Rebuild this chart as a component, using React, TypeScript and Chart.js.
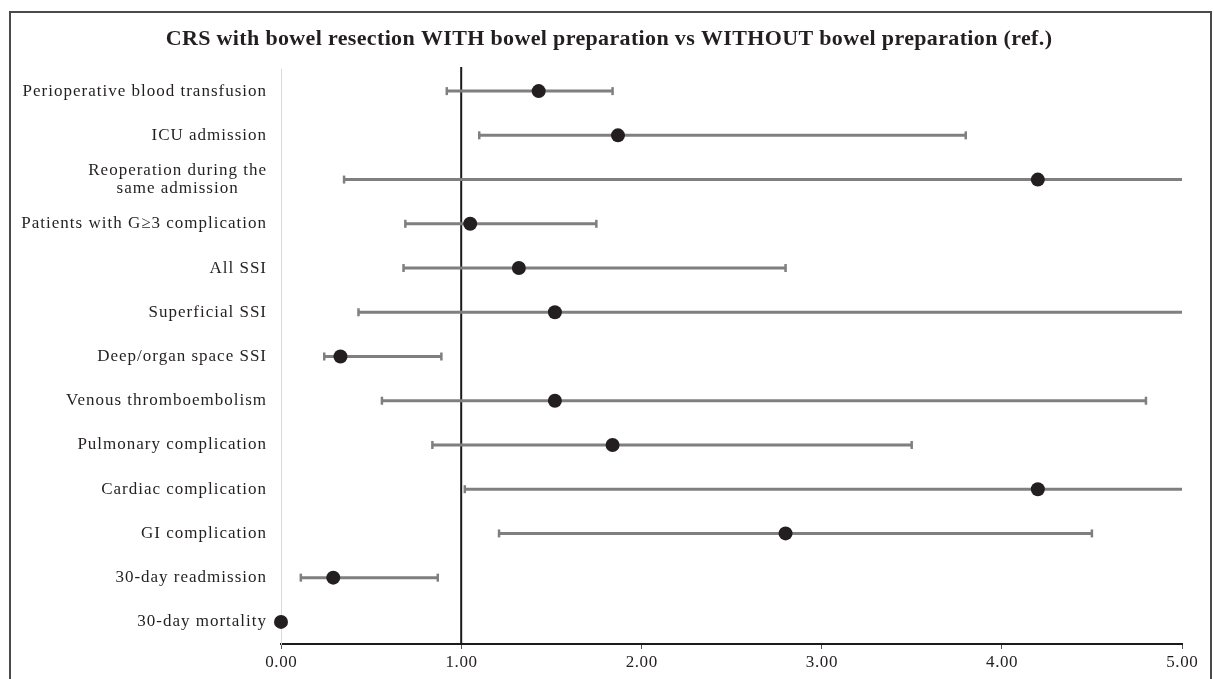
import React, { useEffect, useRef } from 'react';
import { Chart, registerables } from 'chart.js';

Chart.register(...registerables);

const W = 1214;
const H = 679;

const titleText = 'CRS with bowel resection WITH bowel preparation vs WITHOUT bowel preparation (ref.)';

const categories: (string | string[])[] = [
  'Perioperative blood transfusion',
  'ICU admission',
  ['Reoperation during the', 'same admission'],
  'Patients with G\u22653 complication',
  'All SSI',
  'Superficial SSI',
  'Deep/organ space SSI',
  'Venous thromboembolism',
  'Pulmonary complication',
  'Cardiac complication',
  'GI complication',
  '30-day readmission',
  '30-day mortality',
];

const oddsRatio = [1.43, 1.87, 4.2, 1.05, 1.32, 1.52, 0.33, 1.52, 1.84, 4.2, 2.8, 0.29, 0.0];
const ciLower: (number | null)[] = [0.92, 1.1, 0.35, 0.69, 0.68, 0.43, 0.24, 0.56, 0.84, 1.02, 1.21, 0.11, null];
const ciUpper: (number | null)[] = [1.84, 3.8, 6.5, 1.75, 2.8, 6.2, 0.89, 4.8, 3.5, 7.0, 4.5, 0.87, null];

const xTicks = [0, 1, 2, 3, 4, 5];
const referenceValue = 1;

const labelKeys = categories.map((c) => (Array.isArray(c) ? c.join(' ') : c));

export default function App() {
  const ref = useRef<HTMLCanvasElement>(null);

  useEffect(() => {
    document.body.style.margin = '0';
    const canvas = ref.current!;
    const ctx = canvas.getContext('2d')!;

    const errorBars = {
      id: 'errorBars',
      beforeDatasetsDraw(chart: any) {
        const c = chart.ctx;
        const xs = chart.scales.x;
        const ys = chart.scales.y;
        const area = chart.chartArea;
        c.save();
        const rx = xs.getPixelForValue(referenceValue);
        c.strokeStyle = '#1a1a1a';
        c.lineWidth = 2;
        c.beginPath();
        c.moveTo(rx, area.top - 2);
        c.lineTo(rx, area.bottom);
        c.stroke();
        c.strokeStyle = '#7f7f7f';
        for (let i = 0; i < categories.length; i++) {
          const lo = ciLower[i];
          const hi = ciUpper[i];
          if (lo == null || hi == null) continue;
          const y = ys.getPixelForValue(i);
          const x1 = xs.getPixelForValue(Math.max(lo, xs.min));
          const x2 = xs.getPixelForValue(Math.min(hi, xs.max));
          c.lineWidth = 3;
          c.beginPath();
          c.moveTo(x1, y);
          c.lineTo(x2, y);
          c.stroke();
          c.lineWidth = 2.5;
          if (lo >= xs.min) {
            c.beginPath();
            c.moveTo(x1, y - 4);
            c.lineTo(x1, y + 4);
            c.stroke();
          }
          if (hi <= xs.max) {
            c.beginPath();
            c.moveTo(x2, y - 4);
            c.lineTo(x2, y + 4);
            c.stroke();
          }
        }
        c.restore();
      },
    };

    const decorations = {
      id: 'decorations',
      afterDraw(chart: any) {
        const c = chart.ctx;
        const ys = chart.scales.y;
        const xs = chart.scales.x;
        c.save();
        // frame
        c.strokeStyle = '#4a4a4a';
        c.lineWidth = 2;
        c.strokeRect(10, 12, 1201, 700);
        // title
        c.fillStyle = '#231f20';
        c.font = 'bold 22px "Liberation Serif"';
        try { (c as any).letterSpacing = '0.35px'; } catch (e) {}
        c.textAlign = 'center';
        c.textBaseline = 'middle';
        c.fillText(titleText, 609, 39);
        // category labels
        c.font = '17px "Liberation Serif"';
        try { (c as any).letterSpacing = '1px'; } catch (e) {}
        const rightX = 267;
        for (let i = 0; i < categories.length; i++) {
          const lab = categories[i];
          const y = ys.getPixelForValue(i);
          if (Array.isArray(lab)) {
            const w1 = c.measureText(lab[0]).width;
            const cx = rightX - w1 / 2;
            c.textAlign = 'center';
            c.fillText(lab[0], cx, y - 9);
            c.fillText(lab[1], cx, y + 9);
          } else {
            c.textAlign = 'right';
            c.fillText(lab, rightX, y);
          }
        }
        // x tick labels
        c.font = '17px "Liberation Serif"';
        try { (c as any).letterSpacing = '0.6px'; } catch (e) {}
        c.textAlign = 'center';
        for (const v of xTicks) {
          c.fillText(v.toFixed(2), xs.getPixelForValue(v) + 0.3, 663);
        }
        c.restore();
      },
    };

    const chart = new Chart(ctx, {
      type: 'scatter',
      data: {
        datasets: [
          {
            data: oddsRatio.map((v, i) => ({ x: v, y: labelKeys[i] })) as any,
            pointRadius: 7,
            pointHoverRadius: 7,
            backgroundColor: '#231f20',
            borderColor: '#231f20',
            borderWidth: 0,
            clip: false as any,
          },
        ],
      },
      options: {
        animation: false,
        responsive: false,
        events: [],
        layout: { padding: { top: 69, right: 32, bottom: 0, left: 0 } },
        plugins: {
          legend: { display: false },
          tooltip: { enabled: false },
          title: { display: false },
        },
        scales: {
          x: {
            type: 'linear',
            min: xTicks[0],
            max: xTicks[xTicks.length - 1],
            afterBuildTicks: (s: any) => {
              s.ticks = xTicks.map((v) => ({ value: v }));
            },
            ticks: {
              display: false,
            },
            grid: {
              display: true,
              drawOnChartArea: false,
              drawTicks: true,
              tickLength: 5,
              color: '#555555',
              lineWidth: 1,
            },
            border: { display: true, color: '#1a1a1a', width: 2 },
            afterFit: (s: any) => {
              s.height = 35;
            },
          },
          y: {
            type: 'category',
            labels: labelKeys,
            offset: true,
            ticks: { display: false },
            grid: { display: false },
            border: { display: true, color: '#d9d9d9', width: 1 },
            afterFit: (s: any) => {
              s.width = 281;
            },
          },
        },
      },
      plugins: [errorBars, decorations],
    });

    return () => {
      chart.destroy();
    };
  }, []);

  return (
    <div style={{ width: W, height: H, background: '#ffffff' }}>
      <canvas ref={ref} width={W} height={H} style={{ display: 'block', width: W, height: H }} />
    </div>
  );
}
